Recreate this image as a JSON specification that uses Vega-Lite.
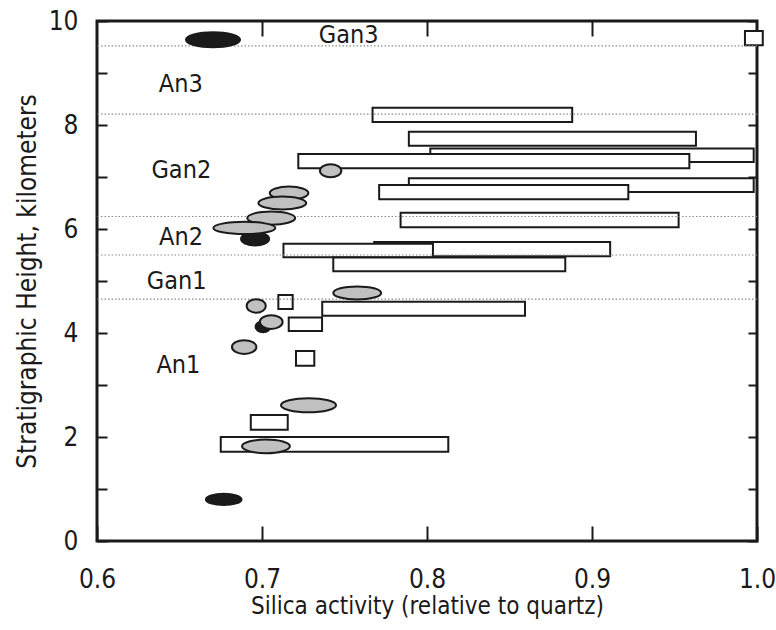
{
  "$schema": "https://vega.github.io/schema/vega-lite/v6.json",
  "width": 660,
  "height": 520,
  "autosize": "none",
  "padding": {"left": 97, "top": 21, "right": 19, "bottom": 89},
  "background": "white",
  "config": {
    "font": "DejaVu Sans Condensed, Liberation Sans Narrow, Roboto Condensed, Noto Sans, sans-serif",
    "view": {"stroke": "#1a1a1a", "strokeWidth": 3},
    "axis": {
      "grid": false,
      "domain": false,
      "tickColor": "#1a1a1a",
      "tickWidth": 2,
      "labelColor": "#1a1a1a",
      "titleColor": "#1a1a1a",
      "labelFontSize": 26,
      "titleFontSize": 25,
      "titleFontWeight": "normal",
      "labelOverlap": false,
      "labelFlush": false,
      "labelBound": false
    }
  },
  "resolve": {"axis": {"x": "independent", "y": "independent"}},
  "datasets": {
    "bars": [
      {"lo": 0.767, "hi": 0.888, "bottom": 8.06, "top": 8.33},
      {"lo": 0.789, "hi": 0.963, "bottom": 7.60, "top": 7.87},
      {"lo": 0.802, "hi": 0.998, "bottom": 7.29, "top": 7.55},
      {"lo": 0.722, "hi": 0.959, "bottom": 7.17, "top": 7.44},
      {"lo": 0.789, "hi": 0.998, "bottom": 6.71, "top": 6.975},
      {"lo": 0.771, "hi": 0.922, "bottom": 6.57, "top": 6.846},
      {"lo": 0.784, "hi": 0.9525, "bottom": 6.033, "top": 6.313},
      {"lo": 0.768, "hi": 0.911, "bottom": 5.475, "top": 5.75},
      {"lo": 0.713, "hi": 0.8036, "bottom": 5.456, "top": 5.717},
      {"lo": 0.7432, "hi": 0.8838, "bottom": 5.188, "top": 5.452},
      {"lo": 0.7365, "hi": 0.8594, "bottom": 4.333, "top": 4.602},
      {"lo": 0.7099, "hi": 0.7186, "bottom": 4.46, "top": 4.73},
      {"lo": 0.7162, "hi": 0.7364, "bottom": 4.04, "top": 4.30},
      {"lo": 0.7206, "hi": 0.7317, "bottom": 3.371, "top": 3.654},
      {"lo": 0.6932, "hi": 0.7156, "bottom": 2.14, "top": 2.423},
      {"lo": 0.675, "hi": 0.8129, "bottom": 1.717, "top": 2.0},
      {"lo": 0.9927, "hi": 1.0035, "bottom": 9.533, "top": 9.808}
    ],
    "bounds": [
      {"y": 9.52}, {"y": 8.21}, {"y": 6.24}, {"y": 5.50}, {"y": 4.65}
    ],
    "ellipses": [
      {"id": "E1", "kind": "black", "x": 0.6703, "hw": 0.0164, "y": 9.64},
      {"id": "E15", "kind": "black", "x": 0.6768, "hw": 0.0108, "y": 0.80},
      {"id": "E7", "kind": "black", "x": 0.6958, "hw": 0.0085, "y": 5.81},
      {"id": "E11", "kind": "black", "x": 0.7006, "hw": 0.0045, "y": 4.12},
      {"id": "E2", "kind": "gray", "x": 0.7416, "hw": 0.0065, "y": 7.12},
      {"id": "E3", "kind": "gray", "x": 0.7164, "hw": 0.0117, "y": 6.69},
      {"id": "E4", "kind": "gray", "x": 0.7123, "hw": 0.0145, "y": 6.50},
      {"id": "E5", "kind": "gray", "x": 0.7056, "hw": 0.0145, "y": 6.21},
      {"id": "E6", "kind": "gray", "x": 0.6893, "hw": 0.0188, "y": 6.02},
      {"id": "E8", "kind": "gray", "x": 0.7577, "hw": 0.0145, "y": 4.77},
      {"id": "E9", "kind": "gray", "x": 0.6965, "hw": 0.0058, "y": 4.52},
      {"id": "E10", "kind": "gray", "x": 0.7056, "hw": 0.0069, "y": 4.21},
      {"id": "E12", "kind": "gray", "x": 0.6892, "hw": 0.0074, "y": 3.73},
      {"id": "E13", "kind": "gray", "x": 0.7282, "hw": 0.0167, "y": 2.61},
      {"id": "E14", "kind": "gray", "x": 0.7024, "hw": 0.0145, "y": 1.82}
    ],
    "units": [
      {"label": "Gan3", "x": 0.7525, "y": 9.725},
      {"label": "An3", "x": 0.6508, "y": 8.79},
      {"label": "Gan2", "x": 0.6511, "y": 7.13},
      {"label": "An2", "x": 0.6509, "y": 5.85},
      {"label": "Gan1", "x": 0.6483, "y": 5.0},
      {"label": "An1", "x": 0.6493, "y": 3.38}
    ]
  },
  "layer": [
    {
      "data": {"name": "bars"},
      "mark": {"type": "rect", "fill": "white", "stroke": "#1a1a1a", "strokeWidth": 2},
      "encoding": {
        "x": {
          "field": "lo", "type": "quantitative",
          "scale": {"domain": [0.6, 1.0], "nice": false, "zero": false},
          "axis": {
            "orient": "bottom", "values": [0.6, 0.7, 0.8, 0.9, 1.0], "format": ".1f",
            "tickSize": -15, "labelPadding": 40,
            "title": "Silica activity (relative to quartz)", "titleFontSize": 24, "titlePadding": 2
          }
        },
        "x2": {"field": "hi"},
        "y": {
          "field": "bottom", "type": "quantitative",
          "scale": {"domain": [0, 10], "nice": false, "zero": false},
          "axis": {
            "orient": "left", "values": [0, 1, 2, 3, 4, 5, 6, 7, 8, 9, 10],
            "labelExpr": "datum.value % 2 == 0 ? datum.label : ''",
            "tickSize": -10, "labelPadding": 29,
            "title": "Stratigraphic Height, kilometers", "titleFontSize": 26, "titlePadding": 8
          }
        },
        "y2": {"field": "top"}
      }
    },
    {
      "data": {"name": "bounds"},
      "mark": {"type": "rule", "stroke": "#8a8a8a", "strokeWidth": 1.2, "strokeDash": [1.5, 2]},
      "encoding": {
        "y": {
          "field": "y", "type": "quantitative",
          "scale": {"domain": [0, 10], "nice": false, "zero": false},
          "axis": {"orient": "right", "values": [0, 1, 2, 3, 4, 5, 6, 7, 8, 9, 10], "labels": false, "tickSize": -9, "title": null}
        }
      }
    },
    {
      "data": {"name": "ellipses"},
      "mark": {"type": "point", "filled": true, "stroke": "#1a1a1a", "strokeWidth": 2, "opacity": 1, "fillOpacity": 1, "strokeOpacity": 1},
      "encoding": {
        "x": {"field": "x", "type": "quantitative", "scale": {"domain": [0.6, 1.0], "nice": false, "zero": false}, "axis": null},
        "y": {"field": "y", "type": "quantitative", "scale": {"domain": [0, 10], "nice": false, "zero": false}, "axis": null},
        "fill": {"field": "kind", "type": "nominal", "scale": {"domain": ["black", "gray"], "range": ["#1a1a1a", "#c0c0c0"]}, "legend": null},
        "size": {"field": "hw", "type": "quantitative", "scale": {"type": "pow", "exponent": 2, "domain": [0, 0.02], "range": [0, 4356]}, "legend": null},
        "shape": {
          "field": "id", "type": "nominal", "legend": null,
          "scale": {
            "domain": ["E1", "E15", "E7", "E11", "E2", "E3", "E4", "E5", "E6", "E8", "E9", "E10", "E12", "E13", "E14"],
            "range": [
              "M-1,0C-1,-0.153 -0.552,-0.278 0,-0.278C0.552,-0.278 1,-0.153 1,0C1,0.153 0.552,0.278 0,0.278C-0.552,0.278 -1,0.153 -1,0Z",
              "M-1,0C-1,-0.175 -0.552,-0.317 0,-0.317C0.552,-0.317 1,-0.175 1,0C1,0.175 0.552,0.317 0,0.317C-0.552,0.317 -1,0.175 -1,0Z",
              "M-1,0C-1,-0.256 -0.552,-0.464 0,-0.464C0.552,-0.464 1,-0.256 1,0C1,0.256 0.552,0.464 0,0.464C-0.552,0.464 -1,0.256 -1,0Z",
              "M-1,0C-1,-0.405 -0.552,-0.733 0,-0.733C0.552,-0.733 1,-0.405 1,0C1,0.405 0.552,0.733 0,0.733C-0.552,0.733 -1,0.405 -1,0Z",
              "M-1,0C-1,-0.337 -0.552,-0.61 0,-0.61C0.552,-0.61 1,-0.337 1,0C1,0.337 0.552,0.61 0,0.61C-0.552,0.61 -1,0.337 -1,0Z",
              "M-1,0C-1,-0.186 -0.552,-0.337 0,-0.337C0.552,-0.337 1,-0.186 1,0C1,0.186 0.552,0.337 0,0.337C-0.552,0.337 -1,0.186 -1,0Z",
              "M-1,0C-1,-0.15 -0.552,-0.271 0,-0.271C0.552,-0.271 1,-0.15 1,0C1,0.15 0.552,0.271 0,0.271C-0.552,0.271 -1,0.15 -1,0Z",
              "M-1,0C-1,-0.154 -0.552,-0.279 0,-0.279C0.552,-0.279 1,-0.154 1,0C1,0.154 0.552,0.279 0,0.279C-0.552,0.279 -1,0.154 -1,0Z",
              "M-1,0C-1,-0.109 -0.552,-0.198 0,-0.198C0.552,-0.198 1,-0.109 1,0C1,0.109 0.552,0.198 0,0.198C-0.552,0.198 -1,0.109 -1,0Z",
              "M-1,0C-1,-0.151 -0.552,-0.273 0,-0.273C0.552,-0.273 1,-0.151 1,0C1,0.151 0.552,0.273 0,0.273C-0.552,0.273 -1,0.151 -1,0Z",
              "M-1,0C-1,-0.392 -0.552,-0.71 0,-0.71C0.552,-0.71 1,-0.392 1,0C1,0.392 0.552,0.71 0,0.71C-0.552,0.71 -1,0.392 -1,0Z",
              "M-1,0C-1,-0.333 -0.552,-0.604 0,-0.604C0.552,-0.604 1,-0.333 1,0C1,0.333 0.552,0.604 0,0.604C-0.552,0.604 -1,0.333 -1,0Z",
              "M-1,0C-1,-0.311 -0.552,-0.564 0,-0.564C0.552,-0.564 1,-0.311 1,0C1,0.311 0.552,0.564 0,0.564C-0.552,0.564 -1,0.311 -1,0Z",
              "M-1,0C-1,-0.141 -0.552,-0.255 0,-0.255C0.552,-0.255 1,-0.141 1,0C1,0.141 0.552,0.255 0,0.255C-0.552,0.255 -1,0.141 -1,0Z",
              "M-1,0C-1,-0.158 -0.552,-0.285 0,-0.285C0.552,-0.285 1,-0.158 1,0C1,0.158 0.552,0.285 0,0.285C-0.552,0.285 -1,0.158 -1,0Z"
            ]
          }
        }
      }
    },
    {
      "data": {"name": "units"},
      "mark": {"type": "text", "fontSize": 25, "fill": "#1a1a1a", "align": "center", "baseline": "middle"},
      "encoding": {
        "x": {
          "field": "x", "type": "quantitative",
          "scale": {"domain": [0.6, 1.0], "nice": false, "zero": false},
          "axis": {"orient": "top", "values": [0.7, 0.8, 0.9], "labels": false, "tickSize": -15, "title": null}
        },
        "y": {"field": "y", "type": "quantitative", "scale": {"domain": [0, 10], "nice": false, "zero": false}, "axis": null},
        "text": {"field": "label"}
      }
    }
  ]
}
